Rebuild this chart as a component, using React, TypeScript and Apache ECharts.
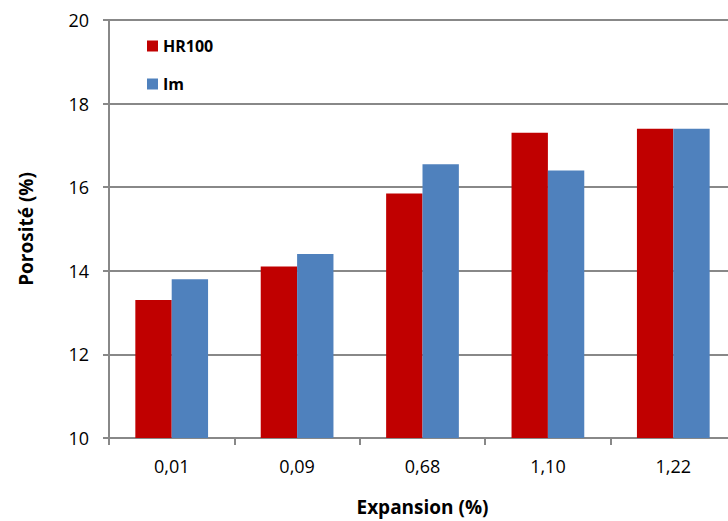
import React, { useEffect, useRef } from "react";
import * as echarts from "echarts";

const categories = ["0,01", "0,09", "0,68", "1,10", "1,22"];
const hr100 = [13.3, 14.1, 15.85, 17.3, 17.4];
const im = [13.8, 14.4, 16.55, 16.4, 17.4];
const yTicks = { min: 10, max: 20, interval: 2 };

const FONT = "'Open Sans', sans-serif";

export default function App() {
  const ref = useRef<HTMLDivElement>(null);
  useEffect(() => {
    if (!ref.current) return;
    const chart = echarts.init(ref.current, null, { renderer: "svg" });
    chart.setOption({
      animation: false,
      textStyle: { fontFamily: FONT },
      grid: { left: 109, top: 20, width: 627, height: 418, containLabel: false },
      legend: {
        orient: "vertical",
        left: 142,
        top: 33,
        itemWidth: 11,
        itemHeight: 11,
        itemGap: 22,
        icon: "rect",
        textStyle: { fontFamily: FONT, fontWeight: "bold", fontSize: 16, lineHeight: 16, color: "#000" },
        data: ["HR100", "Im"],
      },
      xAxis: {
        type: "category",
        data: categories,
        name: "Expansion (%)",
        nameLocation: "middle",
        nameGap: 59,
        nameTextStyle: { fontFamily: FONT, fontWeight: "bold", fontSize: 19, color: "#000" },
        axisLine: { lineStyle: { color: "#888888", width: 2 } },
        axisTick: { show: true, length: 7, lineStyle: { color: "#888888", width: 2 } },
        axisLabel: { fontFamily: FONT, fontSize: 18, color: "#000", margin: 19 },
      },
      yAxis: {
        type: "value",
        min: yTicks.min,
        max: yTicks.max,
        interval: yTicks.interval,
        name: "Porosité (%)",
        nameLocation: "middle",
        nameGap: 74,
        nameTextStyle: { fontFamily: FONT, fontWeight: "bold", fontSize: 19, color: "#000" },
        axisLine: { show: true, lineStyle: { color: "#888888", width: 2 } },
        axisTick: { show: true, length: 6, lineStyle: { color: "#888888", width: 2 } },
        axisLabel: { fontFamily: FONT, fontSize: 18, color: "#000", margin: 20 },
        splitLine: { show: true, lineStyle: { color: "#888888", width: 2 } },
      },
      series: [
        {
          name: "HR100",
          type: "bar",
          data: hr100,
          barGap: "0%",
          barCategoryGap: "42%",
          itemStyle: { color: "#C00000" },
        },
        {
          name: "Im",
          type: "bar",
          data: im,
          barGap: "0%",
          barCategoryGap: "42%",
          itemStyle: { color: "#4F81BD" },
        },
      ],
    });
    return () => chart.dispose();
  }, []);
  return (
    <div style={{ width: 728, height: 521, position: "absolute", left: 0, top: 0, overflow: "hidden" }}>
      <div ref={ref} style={{ width: 760, height: 521, position: "absolute", left: 0, top: 0 }} />
    </div>
  );
}
